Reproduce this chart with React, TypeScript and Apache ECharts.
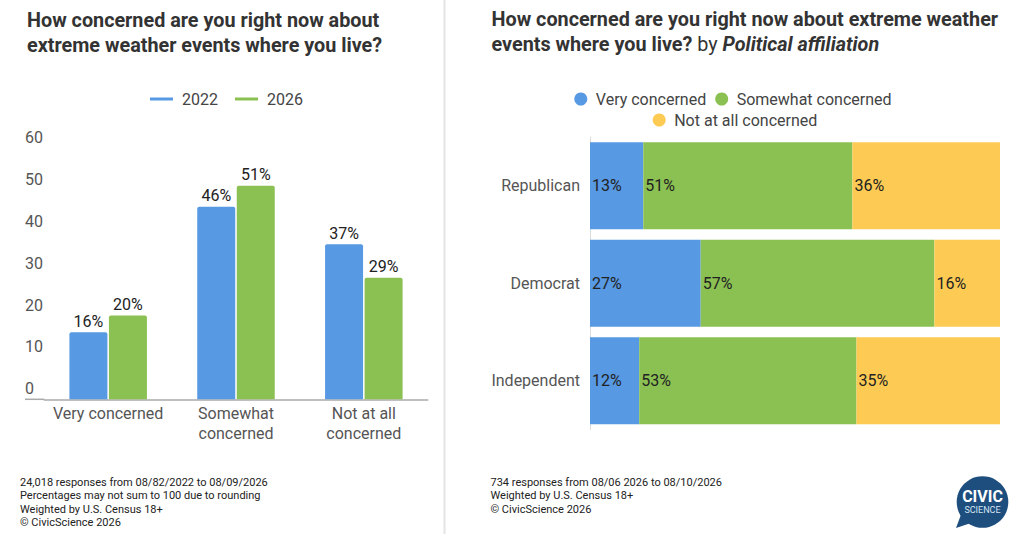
import React, { useEffect, useRef } from "react";
import * as echarts from "echarts";

// ---- Left chart data ----
const yearNames = ["2022", "2026"];
const concernCategories = ["Very concerned", "Somewhat\nconcerned", "Not at all\nconcerned"];
const values2022 = [16, 46, 37];
const values2026 = [20, 51, 29];
const leftAxisMin = 0;
const leftAxisMax = 60;
const leftAxisStep = 10;

// ---- Right chart data ----
const parties = ["Republican", "Democrat", "Independent"];
const levelNames = ["Very concerned", "Somewhat concerned", "Not at all concerned"];
const veryConcerned = [13, 27, 12];
const somewhatConcerned = [51, 57, 53];
const notAtAllConcerned = [36, 16, 35];

// ---- Texts ----
const leftTitle = "How concerned are you right now about\nextreme weather events where you live?";
const rightTitleLine1 = "How concerned are you right now about extreme weather";
const rightTitleLine2 = "events where you live?";
const rightTitleBy = "by";
const rightTitleItalic = "Political affiliation";
const leftFooter = [
  "24,018 responses from 08/82/2022 to 08/09/2026",
  "Percentages may not sum to 100 due to rounding",
  "Weighted by U.S. Census 18+",
  "© CivicScience 2026",
];
const rightFooter = [
  "734 responses from 08/06 2026 to 08/10/2026",
  "Weighted by U.S. Census 18+",
  "© CivicScience 2026",
];

const BLUE = "#5799E2";
const GREEN = "#8BC052";
const YELLOW = "#FDCB54";
const FONT = "Roboto";
const TITLE_SIZE = 19.8;

export default function App() {
  const ref = useRef<HTMLDivElement>(null);

  useEffect(() => {
    if (!ref.current) return;
    const chart = echarts.init(ref.current, undefined, { renderer: "svg" });

    const levelData = [veryConcerned, somewhatConcerned, notAtAllConcerned];
    const levelColors = [BLUE, GREEN, YELLOW];

    const option: any = {
      animation: false,
      backgroundColor: "#ffffff",
      textStyle: { fontFamily: FONT },
      title: [
        {
          text: leftTitle,
          left: 27,
          top: 7.5,
          padding: 0,
          textStyle: {
            fontFamily: FONT,
            fontSize: TITLE_SIZE,
            fontWeight: "bold",
            color: "#333333",
            lineHeight: 25,
          },
        },
        {
          text:
            "{b|" + rightTitleLine1 + "}\n{b|" + rightTitleLine2 + "} {n|" + rightTitleBy + "} {i|" + rightTitleItalic + "}",
          left: 491.5,
          top: 7.5,
          padding: 0,
          textStyle: {
            fontFamily: FONT,
            fontSize: TITLE_SIZE,
            lineHeight: 24.5,
            color: "#333333",
            rich: {
              b: { fontFamily: FONT, fontSize: TITLE_SIZE, fontWeight: "bold", color: "#333333", lineHeight: 24.5 },
              n: { fontFamily: FONT, fontSize: TITLE_SIZE, fontWeight: "normal", color: "#333333", lineHeight: 24.5 },
              i: { fontFamily: FONT, fontSize: TITLE_SIZE, fontWeight: "bold", fontStyle: "italic", color: "#333333", lineHeight: 24.5 },
            },
          },
        },
      ],
      legend: [
        {
          data: yearNames,
          left: 150,
          top: 91,
          padding: 0,
          icon: "rect",
          itemWidth: 23,
          itemHeight: 3,
          itemGap: 17,
          selectedMode: false,
          textStyle: { fontFamily: FONT, fontSize: 16, color: "#444444", padding: [0, 0, 0, 4] },
        },
        {
          data: [levelNames[0], levelNames[1]],
          left: 574.3,
          top: 91,
          padding: 0,
          icon: "circle",
          itemWidth: 20,
          itemHeight: 13,
          itemGap: 9,
          selectedMode: false,
          textStyle: { fontFamily: FONT, fontSize: 16, color: "#444444" },
        },
        {
          data: [levelNames[2]],
          left: 652.7,
          top: 112,
          padding: 0,
          icon: "circle",
          itemWidth: 20,
          itemHeight: 13,
          itemGap: 9,
          selectedMode: false,
          textStyle: { fontFamily: FONT, fontSize: 16, color: "#444444" },
        },
      ],
      grid: [
        { left: 44.25, top: 148, width: 383.5, height: 251.3, containLabel: false },
        { left: 590, top: 137, width: 410, height: 292.5, containLabel: false },
      ],
      xAxis: [
        {
          type: "category",
          gridIndex: 0,
          data: concernCategories,
          axisLine: { show: true, lineStyle: { color: "#aaaaaa", width: 1.5 } },
          axisTick: { show: false },
          axisLabel: {
            interval: 0,
            margin: 4,
            fontFamily: FONT,
            fontSize: 16,
            lineHeight: 20,
            color: "#555555",
          },
          splitLine: { show: false },
        },
        {
          type: "value",
          gridIndex: 1,
          min: 0,
          max: 100,
          show: false,
        },
      ],
      yAxis: [
        {
          type: "value",
          gridIndex: 0,
          min: leftAxisMin,
          max: leftAxisMax,
          interval: leftAxisStep,
          axisLine: { show: false },
          axisTick: { show: false },
          splitLine: { show: false },
          axisLabel: {
            align: "left",
            verticalAlign: "bottom",
            margin: 19.25,
            padding: [0, 0, 2.5, 0],
            fontFamily: FONT,
            fontSize: 16,
            color: "#555555",
          },
        },
        {
          type: "category",
          gridIndex: 1,
          data: parties,
          inverse: true,
          axisLine: { show: true, lineStyle: { color: "#dddddd", width: 1 } },
          axisTick: { show: false },
          axisLabel: {
            margin: 10,
            fontFamily: FONT,
            fontSize: 16,
            color: "#555555",
          },
        },
      ],
      series: [
        {
          name: yearNames[0],
          type: "bar",
          xAxisIndex: 0,
          yAxisIndex: 0,
          data: values2022,
          barWidth: 38,
          barGap: "4%",
          itemStyle: { color: BLUE, borderRadius: [2, 2, 0, 0] },
          label: {
            show: true,
            position: "top",
            distance: 3,
            formatter: "{c}%",
            fontFamily: FONT,
            fontSize: 16,
            color: "#222222",
          },
        },
        {
          name: yearNames[1],
          type: "bar",
          xAxisIndex: 0,
          yAxisIndex: 0,
          data: values2026,
          barWidth: 38,
          barGap: "4%",
          itemStyle: { color: GREEN, borderRadius: [2, 2, 0, 0] },
          label: {
            show: true,
            position: "top",
            distance: 3,
            formatter: "{c}%",
            fontFamily: FONT,
            fontSize: 16,
            color: "#222222",
          },
        },
        ...levelNames.map((name, i) => ({
          name,
          type: "bar",
          xAxisIndex: 1,
          yAxisIndex: 1,
          stack: "total",
          data: levelData[i],
          barWidth: 87,
          itemStyle: { color: levelColors[i] },
          label: {
            show: true,
            position: "insideLeft",
            distance: 2,
            formatter: "{c}%",
            fontFamily: FONT,
            fontSize: 16,
            color: "#222222",
          },
        })),
      ],
      graphic: [
        // panel separator
        {
          type: "line",
          shape: { x1: 444.5, y1: 0, x2: 444.5, y2: 534 },
          style: { stroke: "#e4e4e4", lineWidth: 2 },
          silent: true,
        },
        // baseline extension left of the plot
        {
          type: "line",
          shape: { x1: 25, y1: 399.3, x2: 44.25, y2: 399.3 },
          style: { stroke: "#aaaaaa", lineWidth: 1.5 },
          silent: true,
        },
        // footers
        {
          type: "text",
          left: 20,
          top: 476,
          style: {
            text: leftFooter.join("\n"),
            fontFamily: FONT,
            fontSize: 11,
            lineHeight: 13.3,
            fill: "#222222",
          },
          silent: true,
        },
        {
          type: "text",
          left: 490.5,
          top: 476,
          style: {
            text: rightFooter.join("\n"),
            fontFamily: FONT,
            fontSize: 11,
            lineHeight: 13.3,
            fill: "#222222",
          },
          silent: true,
        },
        // logo
        {
          type: "group",
          silent: true,
          children: [
            {
              type: "polygon",
              shape: { points: [[962, 512], [956, 528], [974, 522]] },
              style: { fill: "#1D4E7E" },
            },
            {
              type: "circle",
              shape: { cx: 982.5, cy: 502, r: 25.8 },
              style: { fill: "#1D4E7E" },
            },
            {
              type: "text",
              x: 982.5,
              y: 496,
              style: {
                text: "CIVIC",
                fontFamily: FONT,
                fontSize: 16,
                lineHeight: 12,
                fontWeight: "bold",
                fill: "#ffffff",
                align: "center",
                verticalAlign: "middle",
              },
            },
            {
              type: "text",
              x: 982.5,
              y: 509.5,
              style: {
                text: "SCIENCE",
                fontFamily: FONT,
                fontSize: 9,
                lineHeight: 8,
                fill: "#d6e4f2",
                align: "center",
                verticalAlign: "middle",
              },
            },
          ],
        },
      ],
    };

    chart.setOption(option);
    return () => {
      chart.dispose();
    };
  }, []);

  return (
    <div
      ref={ref}
      style={{ position: "fixed", left: 0, top: 0, width: 1024, height: 534, background: "#ffffff" }}
    />
  );
}
